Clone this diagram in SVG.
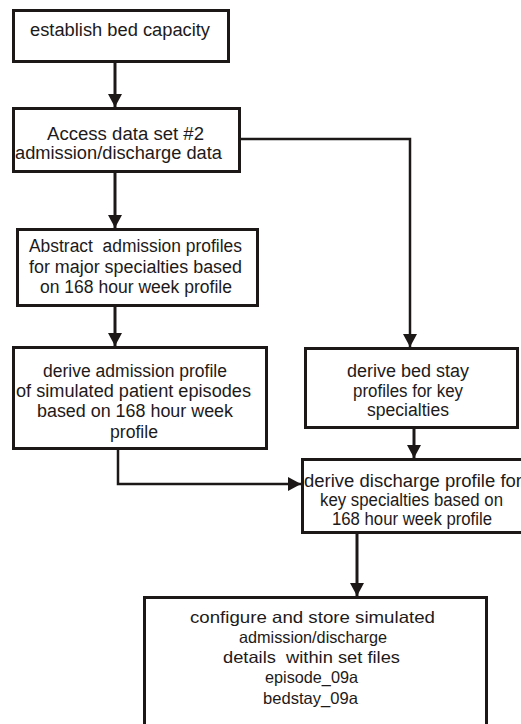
<svg xmlns="http://www.w3.org/2000/svg" width="521" height="724" viewBox="0 0 521 724">
  <style>
    .box { fill: #ffffff; stroke: #1c1818; stroke-width: 3; }
    .lbl { font-family: "Liberation Sans", Arial, sans-serif; font-size: 18px; fill: #1e1a1a; }
    .lbl.sm { font-size: 16.5px; }
    .edge { fill: none; stroke: #1c1818; stroke-width: 3; }
    .edge.thin { stroke-width: 2.5; }
  </style>
  <defs>
    <marker id="arrow" markerUnits="userSpaceOnUse" markerWidth="14" markerHeight="14" refX="13" refY="7" orient="auto">
      <path d="M0,0 L13,7 L0,14 z" fill="#1c1818"/>
    </marker>
  </defs>

  <rect width="521" height="724" fill="#ffffff"/>

  <!-- connectors -->
  <g id="connectors">
    <line class="edge" x1="115" y1="62" x2="115" y2="107" marker-end="url(#arrow)"/>
    <line class="edge" x1="115" y1="172" x2="115" y2="228" marker-end="url(#arrow)"/>
    <line class="edge" x1="115" y1="306" x2="115" y2="346" marker-end="url(#arrow)"/>
    <path class="edge thin" d="M240,139 H410 V347" marker-end="url(#arrow)"/>
    <path class="edge thin" d="M118,449 V484 H301" marker-end="url(#arrow)"/>
    <line class="edge" x1="414" y1="428" x2="414" y2="458" marker-end="url(#arrow)"/>
    <line class="edge" x1="357" y1="533" x2="357" y2="596" marker-end="url(#arrow)"/>
  </g>

  <g id="establish-bed-capacity">
    <rect class="box" x="13.5" y="10.5" width="215" height="51"/>
    <text class="lbl" x="30" y="36" textLength="180" lengthAdjust="spacingAndGlyphs">establish bed capacity</text>
  </g>

  <g id="access-data-set">
    <rect class="box" x="13.5" y="108.5" width="226" height="63"/>
    <text class="lbl" x="47" y="140" textLength="157" lengthAdjust="spacingAndGlyphs">Access data set #2</text>
    <text class="lbl" x="15" y="159" textLength="207" lengthAdjust="spacingAndGlyphs">admission/discharge data</text>
  </g>

  <g id="abstract-admission-profiles">
    <rect class="box" x="17.5" y="229.5" width="240" height="76"/>
    <text class="lbl" x="29" y="252" textLength="213" lengthAdjust="spacingAndGlyphs" xml:space="preserve">Abstract  admission profiles</text>
    <text class="lbl" x="29" y="273" textLength="213" lengthAdjust="spacingAndGlyphs">for major specialties based</text>
    <text class="lbl" x="40" y="293" textLength="192" lengthAdjust="spacingAndGlyphs">on 168 hour week profile</text>
  </g>

  <g id="derive-admission-profile">
    <rect class="box" x="13.5" y="347.5" width="253" height="101"/>
    <text class="lbl" x="43" y="377" textLength="184" lengthAdjust="spacingAndGlyphs">derive admission profile</text>
    <text class="lbl" x="16" y="397" textLength="235" lengthAdjust="spacingAndGlyphs">of simulated patient episodes</text>
    <text class="lbl" x="37" y="417" textLength="196" lengthAdjust="spacingAndGlyphs">based on 168 hour week</text>
    <text class="lbl" x="110" y="438" textLength="48" lengthAdjust="spacingAndGlyphs">profile</text>
  </g>

  <g id="derive-bed-stay-profiles">
    <rect class="box" x="305.5" y="348.5" width="212" height="79"/>
    <text class="lbl" x="347" y="377" textLength="122" lengthAdjust="spacingAndGlyphs">derive bed stay</text>
    <text class="lbl" x="353" y="397" textLength="110" lengthAdjust="spacingAndGlyphs">profiles for key</text>
    <text class="lbl" x="367" y="416" textLength="82" lengthAdjust="spacingAndGlyphs">specialties</text>
  </g>

  <g id="derive-discharge-profile">
    <rect class="box" x="302.5" y="459.5" width="221" height="73"/>
    <text class="lbl" x="304" y="487" textLength="218" lengthAdjust="spacingAndGlyphs">derive discharge profile for</text>
    <text class="lbl" x="320" y="506" textLength="183" lengthAdjust="spacingAndGlyphs">key specialties based on</text>
    <text class="lbl" x="332" y="525" textLength="160" lengthAdjust="spacingAndGlyphs">168 hour week profile</text>
  </g>

  <g id="configure-and-store">
    <rect class="box" x="144.5" y="597.5" width="342" height="140"/>
    <text class="lbl sm" x="190" y="623" textLength="245" lengthAdjust="spacingAndGlyphs">configure and store simulated</text>
    <text class="lbl sm" x="239" y="643" textLength="148" lengthAdjust="spacingAndGlyphs">admission/discharge</text>
    <text class="lbl sm" x="223" y="663" textLength="177" lengthAdjust="spacingAndGlyphs" xml:space="preserve">details  within set files</text>
    <text class="lbl sm" x="265" y="683" textLength="93" lengthAdjust="spacingAndGlyphs">episode_09a</text>
    <text class="lbl sm" x="263" y="704" textLength="95" lengthAdjust="spacingAndGlyphs">bedstay_09a</text>
  </g>
</svg>
